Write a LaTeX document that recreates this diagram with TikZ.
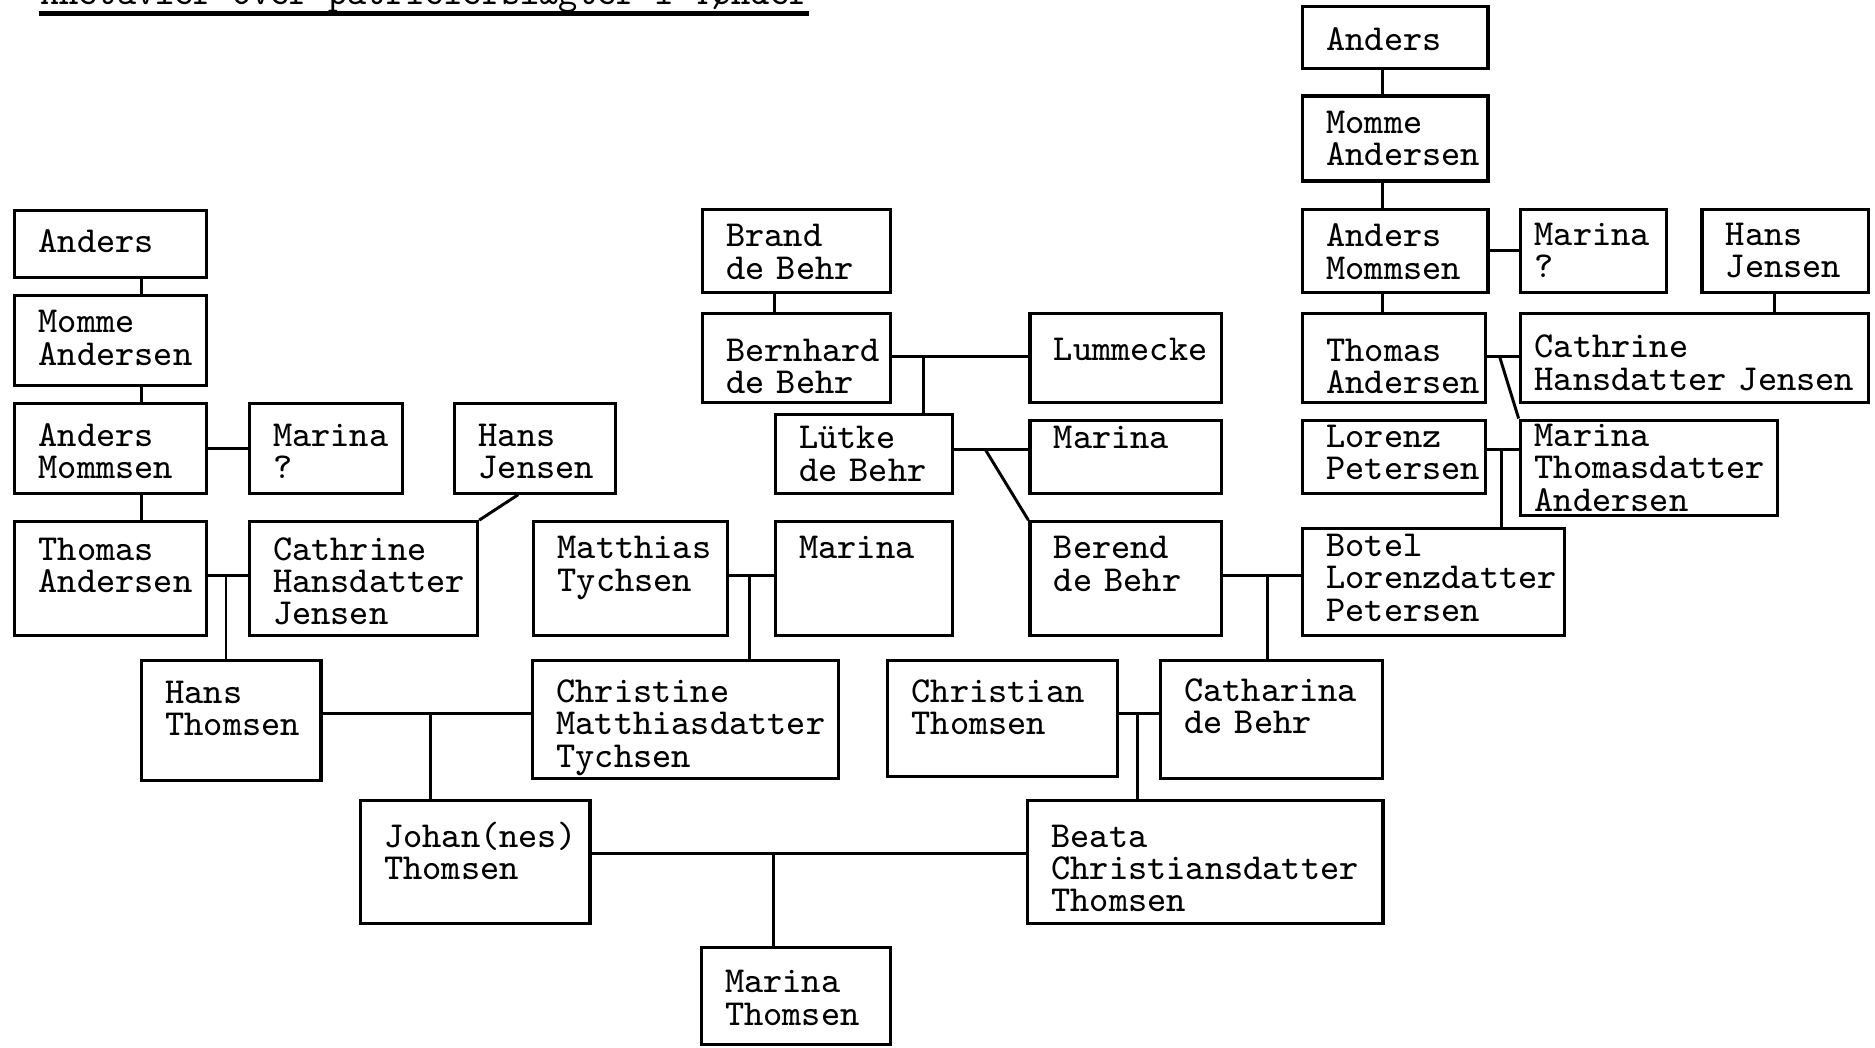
\documentclass[tikz,border=0pt]{standalone}
\usepackage{fontspec}
\begin{document}
\begin{tikzpicture}[x=0.01cm, y=-0.01cm,
    person/.style={rectangle, draw, line width=0.75pt, anchor=north west, align=left,
      inner xsep=0.2cm, inner ysep=0pt, font=\fontsize{8.7}{7.7}\selectfont\ttfamily},
    narrow/.style={inner xsep=0.12cm},
    link/.style={line width=0.7pt}]
    \useasboundingbox (0,0) rectangle (1568,876);

    % Title
    \node[anchor=base west, inner sep=0pt, font=\fontsize{8.7}{7.7}\selectfont\ttfamily] (title) at (33,4) {Anetavler over patricierslægter i Tønder};
    \draw[line width=1.2pt] (title.south west) -- (title.south east);

    % Persons, left
    \node[person, text width=1.20cm, text height=0.35cm, text depth=0.21cm] (anders1) at (11,175) {Anders};
    \node[person, text width=1.20cm, text height=0.31cm, text depth=0.44cm] (momme1) at (11,246) {Momme\\Andersen};
    \node[person, text width=1.20cm, text height=0.36cm, text depth=0.39cm] (mommsen1) at (11,336) {Anders\\Mommsen};
    \node[person, text width=0.88cm, text height=0.36cm, text depth=0.39cm] (marina1) at (207,336) {Marina\\?};
    \node[person, text width=0.94cm, text height=0.36cm, text depth=0.39cm] (hans1) at (379,336) {Hans\\Jensen};
    \node[person, text width=1.20cm, text height=0.32cm, text depth=0.63cm] (thomas1) at (11,435) {Thomas\\Andersen};
    \node[person, text width=1.51cm, text height=0.32cm, text depth=0.63cm] (cathrine1) at (207,435) {Cathrine\\Hansdatter\\Jensen};
    \node[person, text width=1.22cm, text height=0.31cm, text depth=0.64cm] (matthias) at (445,435) {Matthias\\Tychsen};
    \node[person, text width=1.08cm, text height=0.31cm, text depth=0.64cm] (marina5) at (647,435) {Marina};

    % Persons, middle
    \node[person, text width=1.17cm, text height=0.31cm, text depth=0.38cm] (brand) at (586,174) {Brand\\de Behr};
    \node[person, text width=1.17cm, text height=0.40cm, text depth=0.34cm] (bernhard) at (586,261) {Bernhard\\de Behr};
    \node[person, text width=1.20cm, text height=0.39cm, text depth=0.35cm] (lummecke) at (860,261) {Lummecke};
    \node[person, text width=1.08cm, text height=0.29cm, text depth=0.37cm] (luetke) at (647,345) {Lütke\\de Behr};
    \node[person, text width=1.20cm, text height=0.24cm, text depth=0.37cm] (marina4) at (860,350) {Marina};
    \node[person, text width=1.20cm, text height=0.31cm, text depth=0.64cm] (berend) at (860,435) {Berend\\de Behr};

    % Persons, right
    \node[person, text width=1.15cm, text height=0.37cm, text depth=0.15cm] (anders2) at (1088,4) {Anders};
    \node[person, text width=1.15cm, text height=0.31cm, text depth=0.40cm] (momme2) at (1088,79) {Momme\\Andersen};
    \node[person, text width=1.15cm, text height=0.31cm, text depth=0.38cm] (mommsen2) at (1088,174) {Anders\\Mommsen};
    \node[person, narrow, text width=0.98cm, text height=0.30cm, text depth=0.39cm] (marina2) at (1270,174) {Marina\\?};
    \node[person, text width=0.99cm, text height=0.30cm, text depth=0.39cm] (hans2) at (1422,174) {Hans\\Jensen};
    \node[person, text width=1.13cm, text height=0.40cm, text depth=0.34cm] (thomas2) at (1088,261) {Thomas\\Andersen};
    \node[person, narrow, text width=2.67cm, text height=0.37cm, text depth=0.37cm] (cathrine2) at (1270,261) {Cathrine\\Hansdatter~Jensen};
    \node[person, text width=1.13cm, text height=0.23cm, text depth=0.38cm] (lorenz) at (1088,350) {Lorenz\\Petersen};
    \node[person, narrow, text width=1.91cm, text height=0.22cm, text depth=0.58cm] (marina3) at (1270,350) {Marina\\Thomasdatter\\Andersen};
    \node[person, text width=1.79cm, text height=0.23cm, text depth=0.66cm] (botel) at (1088,441) {Botel\\Lorenzdatter\\Petersen};

    % Persons, lower
    \node[person, text width=1.10cm, text height=0.36cm, text depth=0.64cm] (hansthomsen) at (117,551) {Hans\\Thomsen};
    \node[person, text width=2.16cm, text height=0.35cm, text depth=0.64cm] (christine) at (444,551) {Christine\\Matthiasdatter\\Tychsen};
    \node[person, text width=1.52cm, text height=0.35cm, text depth=0.62cm] (christian) at (741,551) {Christian\\Thomsen};
    \node[person, text width=1.46cm, text height=0.34cm, text depth=0.65cm] (catharina) at (969,551) {Catharina\\de Behr};
    \node[person, text width=1.52cm, text height=0.39cm, text depth=0.64cm] (johan) at (300,668) {Johan(nes)\\Thomsen};
    \node[person, text width=2.57cm, text height=0.39cm, text depth=0.64cm] (beata) at (858,668) {Beata\\Christiansdatter\\Thomsen};
    \node[person, text width=1.18cm, text height=0.38cm, text depth=0.43cm] (marina6) at (585,791) {Marina\\Thomsen};

    % Lines
    \coordinate (left) at (118,0);
    \coordinate (right) at (1156,0);
    \coordinate (brandline) at (648,0);
    \coordinate (hansline) at (1484,0);
    \coordinate (u1) at (189,481);
    \coordinate (u2) at (627,481);
    \coordinate (u3) at (360,597);
    \coordinate (u4) at (772,298);
    \coordinate (u5) at (824,376);
    \coordinate (u6) at (1060,481);
    \coordinate (u7) at (951,597);
    \coordinate (u8) at (647,714);
    \coordinate (u9) at (1254,298);
    \coordinate (u10) at (1256,376);

    \draw[link] (anders1.south -| left) -- (momme1.north -| left);
    \draw[link] (momme1.south -| left) -- (mommsen1.north -| left);
    \draw[link] (mommsen1.south -| left) -- (thomas1.north -| left);
    \draw[link] (mommsen1) -- (marina1);
    \draw[link] ([xshift=-0.14cm]hans1.south) -- (cathrine1.north east);
    \draw[link] (thomas1.east |- u1) -- (cathrine1.west |- u1);
    \draw[link] (u1) -- (hansthomsen.north -| u1);
    \draw[link] (matthias.east |- u2) -- (marina5.west |- u2);
    \draw[link] (u2) -- (christine.north -| u2);
    \draw[link] (hansthomsen.east |- u3) -- (christine.west |- u3);
    \draw[link] (u3) -- (johan.north -| u3);

    \draw[link] (brand.south -| brandline) -- (bernhard.north -| brandline);
    \draw[link] (bernhard.east |- u4) -- (lummecke.west |- u4);
    \draw[link] (u4) -- (luetke.north -| u4);
    \draw[link] (luetke.east |- u5) -- (marina4.west |- u5);
    \draw[link] (u5) -- (berend.north west);
    \draw[link] (berend.east |- u6) -- (botel.west |- u6);
    \draw[link] (u6) -- (catharina.north -| u6);
    \draw[link] (christian.east |- u7) -- (catharina.west |- u7);
    \draw[link] (u7) -- (beata.north -| u7);
    \draw[link] (johan.east |- u8) -- (beata.west |- u8);
    \draw[link] (u8) -- (marina6.north -| u8);

    \draw[link] (anders2.south -| right) -- (momme2.north -| right);
    \draw[link] (momme2.south -| right) -- (mommsen2.north -| right);
    \draw[link] (mommsen2.south -| right) -- (thomas2.north -| right);
    \draw[link] (mommsen2) -- (marina2);
    \draw[link] (hans2.south -| hansline) -- (cathrine2.north -| hansline);
    \draw[link] (thomas2.east |- u9) -- (cathrine2.west |- u9);
    \draw[link] (u9) -- (marina3.north west);
    \draw[link] (lorenz.east |- u10) -- (marina3.west |- u10);
    \draw[link] (u10) -- (botel.north -| u10);
\end{tikzpicture}
\end{document}
